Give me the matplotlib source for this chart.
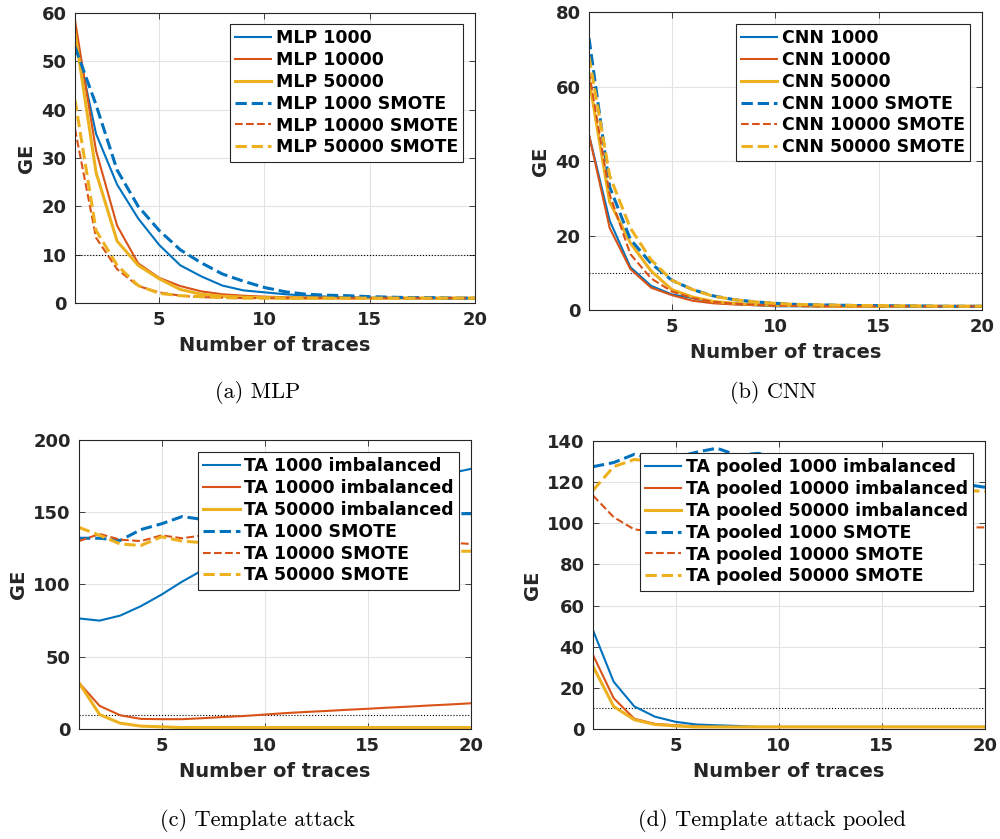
import numpy as np
import matplotlib
matplotlib.use('Agg')
import matplotlib.pyplot as plt

# number of traces
traces = np.arange(1, 21)

# (a) MLP
mlp_1000 = [55.5, 35, 24.5, 17.5, 12, 7.8, 5.5, 3.6, 2.6, 2.2, 1.8, 1.5, 1.3, 1.2, 1.1, 1.1, 1.0, 1.0, 1.0, 1.0]
mlp_10000 = [58.5, 31.5, 16, 8.2, 5.2, 3.5, 2.4, 1.8, 1.5, 1.3, 1.2, 1.1, 1.1, 1.0, 1.0, 1.0, 1.0, 1.0, 1.0, 1.0]
mlp_50000 = [56, 27, 12.8, 7.8, 5, 2.8, 1.8, 1.4, 1.2, 1.1, 1.0, 1.0, 1.0, 1.0, 1.0, 1.0, 1.0, 1.0, 1.0, 1.0]
mlp_1000_smote = [53, 41, 27.5, 20, 15, 11, 8.3, 6, 4.5, 3.2, 2.3, 1.8, 1.6, 1.5, 1.3, 1.2, 1.1, 1.1, 1.0, 1.0]
mlp_10000_smote = [36, 13.5, 7, 3.5, 2.2, 1.5, 1.2, 1.1, 1.0, 1.0, 1.0, 1.0, 1.0, 1.0, 1.0, 1.0, 1.0, 1.0, 1.0, 1.0]
mlp_50000_smote = [42, 15, 7.8, 3.6, 2, 1.5, 1.3, 1.1, 1.0, 1.0, 1.0, 1.0, 1.0, 1.0, 1.0, 1.0, 1.0, 1.0, 1.0, 1.0]

# (b) CNN
cnn_1000 = [47, 24, 11.5, 6.5, 4.2, 3.2, 2, 1.6, 1.3, 1.0, 1.0, 1.0, 1.0, 1.0, 1.0, 1.0, 1.0, 1.0, 1.0, 1.0]
cnn_10000 = [47, 22, 11, 6, 4, 2.5, 1.8, 1.5, 1.3, 1.2, 1.1, 1.0, 1.0, 1.0, 1.0, 1.0, 1.0, 1.0, 1.0, 1.0]
cnn_50000 = [62, 29, 18, 10.5, 5.5, 3.5, 2.3, 1.8, 1.5, 1.3, 1.2, 1.1, 1.0, 1.0, 1.0, 1.0, 1.0, 1.0, 1.0, 1.0]
cnn_1000_smote = [73, 33, 19, 12.5, 8, 5.5, 3.8, 2.8, 2.2, 1.8, 1.5, 1.4, 1.3, 1.2, 1.2, 1.1, 1.1, 1.0, 1.0, 1.0]
cnn_10000_smote = [64, 31, 15, 8.5, 5, 3.2, 2.2, 1.7, 1.4, 1.2, 1.1, 1.0, 1.0, 1.0, 1.0, 1.0, 1.0, 1.0, 1.0, 1.0]
cnn_50000_smote = [68, 36, 22, 13.5, 8, 5.5, 3.7, 2.8, 2.2, 1.8, 1.5, 1.4, 1.3, 1.2, 1.2, 1.1, 1.1, 1.0, 1.0, 1.0]

# (c) Template attack
ta_1000 = [76.5, 75, 78.5, 85, 93, 102, 110, 118, 126, 133, 140, 146, 151, 156, 161, 165, 169, 173, 177, 180]
ta_10000 = [32, 16, 9.5, 7, 6.8, 6.8, 7.5, 8.3, 9, 10, 11, 11.8, 12.5, 13.3, 14, 14.8, 15.5, 16.3, 17, 17.8]
ta_50000 = [32, 10, 4, 2, 1.5, 1.0, 1.0, 1.0, 1.0, 1.0, 1.0, 1.0, 1.0, 1.0, 1.0, 1.0, 1.0, 1.0, 1.0, 1.0]
ta_1000_smote = [132, 132, 130.5, 138, 142, 147, 145, 143, 144, 146, 145, 147, 146, 148, 147, 148, 149, 148, 149, 149]
ta_10000_smote = [130, 135, 131, 130, 134, 132, 134, 131, 130, 132, 131, 130, 129, 131, 130, 129, 130, 129, 129, 128]
ta_50000_smote = [139.5, 134, 128, 127, 133, 130, 129, 128, 127, 128, 126, 127, 125, 126, 125, 124, 125, 124, 123, 123]

# (d) Template attack pooled
tap_1000 = [48, 23, 11, 6, 3.5, 2.2, 1.8, 1.5, 1.0, 1.0, 1.0, 1.0, 1.0, 1.0, 1.0, 1.0, 1.0, 1.0, 1.0, 1.0]
tap_10000 = [36, 15, 5, 2.5, 1.8, 1.3, 1.0, 1.0, 1.0, 1.0, 1.0, 1.0, 1.0, 1.0, 1.0, 1.0, 1.0, 1.0, 1.0, 1.0]
tap_50000 = [30.5, 11, 4.5, 2.2, 1.5, 1.0, 1.0, 1.0, 1.0, 1.0, 1.0, 1.0, 1.0, 1.0, 1.0, 1.0, 1.0, 1.0, 1.0, 1.0]
tap_1000_smote = [127.5, 129.5, 133.5, 131, 132, 134.5, 136.5, 133, 134, 132, 130, 129, 128, 127, 125, 124, 122, 121, 119, 117.5]
tap_10000_smote = [113.5, 103, 97, 96, 95, 95, 96, 95, 96, 96, 97, 96, 97, 97, 96, 97, 98, 97, 98, 98]
tap_50000_smote = [116, 127.5, 131, 130, 129, 128, 127, 127, 126, 125, 124, 123, 122, 121, 120, 119, 118, 117, 116, 115.5]

sizes = ["1000", "10000", "50000"]

###################################
tick_fontsize = 13
label_fontsize = 14
legend_fontsize = 12.5
caption_fontsize = 16
###################################

blue = "#0072BD"
red = "#D95319"
yellow = "#EDB120"
colors = [blue, red, yellow, blue, red, yellow]
linestyles = ["-", "-", "-", "--", "--", "--"]
linewidths = [1.5, 1.5, 2.2, 2.2, 1.5, 2.2]
axcol = "#262626"

panels = [
    dict(rect=[0.075, 0.6389, 0.400, 0.3456], ylim=(0, 60), yticks=np.arange(0, 61, 10),
         series=[mlp_1000, mlp_10000, mlp_50000, mlp_1000_smote, mlp_10000_smote, mlp_50000_smote],
         labels=["MLP " + s for s in sizes] + ["MLP " + s + " SMOTE" for s in sizes],
         anchor=(0.97, 0.962), caption="(a) MLP", cap_xy=(0.258, 1 - 392 / 839)),
    dict(rect=[0.589, 0.6305, 0.393, 0.3552], ylim=(0, 80), yticks=np.arange(0, 81, 20),
         series=[cnn_1000, cnn_10000, cnn_50000, cnn_1000_smote, cnn_10000_smote, cnn_50000_smote],
         labels=["CNN " + s for s in sizes] + ["CNN " + s + " SMOTE" for s in sizes],
         anchor=(0.969, 0.960), caption="(b) CNN", cap_xy=(0.773, 1 - 392 / 839)),
    dict(rect=[0.079, 0.1311, 0.392, 0.3445], ylim=(0, 200), yticks=np.arange(0, 201, 50),
         series=[ta_1000, ta_10000, ta_50000, ta_1000_smote, ta_10000_smote, ta_50000_smote],
         labels=["TA " + s + " imbalanced" for s in sizes] + ["TA " + s + " SMOTE" for s in sizes],
         anchor=(0.969, 0.958), caption="(c) Template attack", cap_xy=(0.257, 1 - 820 / 839)),
    dict(rect=[0.593, 0.1311, 0.392, 0.3433], ylim=(0, 140), yticks=np.arange(0, 141, 20),
         series=[tap_1000, tap_10000, tap_50000, tap_1000_smote, tap_10000_smote, tap_50000_smote],
         labels=["TA pooled " + s + " imbalanced" for s in sizes] + ["TA pooled " + s + " SMOTE" for s in sizes],
         anchor=(0.969, 0.958), caption="(d) Template attack pooled", cap_xy=(0.772, 1 - 820 / 839)),
]

fig = plt.figure(figsize=(10, 8.39), dpi=100)

for p in panels:
    ax = fig.add_axes(p["rect"])
    ax.axhline(10, color="black", linestyle=":", linewidth=0.8, zorder=1)
    for i in range(6):
        ax.plot(traces, p["series"][i], color=colors[i], linestyle=linestyles[i],
                linewidth=linewidths[i], label=p["labels"][i], zorder=2)
    ax.set_xlim(1, 20)
    ax.set_ylim(*p["ylim"])
    ax.set_xticks([5, 10, 15, 20])
    ax.set_yticks(p["yticks"])
    ax.grid(True, color="#e3e3e3", linewidth=0.8)
    ax.set_axisbelow(True)
    ax.tick_params(direction="in", top=True, right=True, length=4, width=0.6, colors=axcol,
                   labelsize=tick_fontsize, pad=6)
    for lab in ax.get_xticklabels() + ax.get_yticklabels():
        lab.set_fontweight("bold")
    for sp in ax.spines.values():
        sp.set_color(axcol)
        sp.set_linewidth(0.8)
    ax.set_xlabel("Number of traces", fontsize=label_fontsize, fontweight="bold", color=axcol, labelpad=5)
    ax.set_ylabel("GE", fontsize=label_fontsize, fontweight="bold", color=axcol, labelpad=4)
    leg = ax.legend(loc="upper right", bbox_to_anchor=p["anchor"], borderaxespad=0,
                    prop={"size": legend_fontsize, "weight": "bold"}, fancybox=False,
                    framealpha=1, edgecolor=axcol, labelspacing=0.22, handlelength=2.1,
                    handletextpad=0.25, borderpad=0.3)
    leg.get_frame().set_linewidth(0.8)
    fig.text(p["cap_xy"][0], p["cap_xy"][1], p["caption"], ha="center", va="center",
             fontsize=caption_fontsize, family=["cmr10", "DejaVu Serif"])

plt.savefig("out.png", dpi=100)
plt.close()
